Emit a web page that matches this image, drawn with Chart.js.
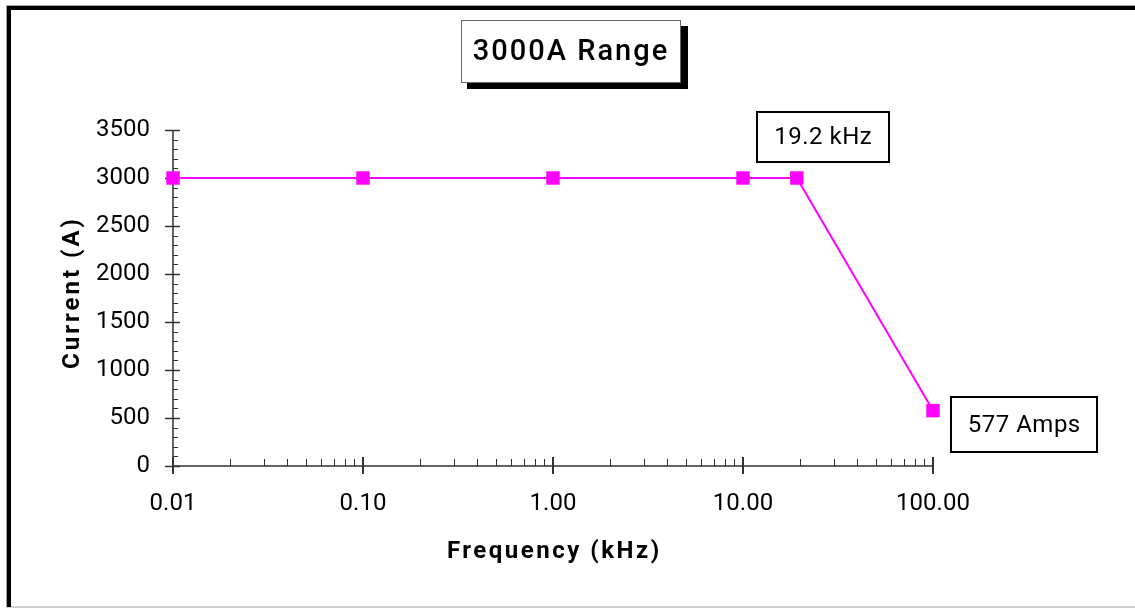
<!DOCTYPE html>
<html>
<head>
<meta charset="utf-8">
<script src="https://cdn.jsdelivr.net/npm/chart.js@4/dist/chart.umd.min.js"></script>
<style>
  body { margin: 0; background: #fff; }
  canvas { display: block; }
</style>
</head>
<body>
<canvas id="rangeChart" width="1135" height="608"></canvas>
<script>
// data
var freqKHz = [0.01, 0.1, 1, 10, 19.2, 100];
var currentA = [3000, 3000, 3000, 3000, 3000, 577];
var xTickValues = [0.01, 0.1, 1, 10, 100];
var yTickValues = [0, 500, 1000, 1500, 2000, 2500, 3000, 3500];
var noteLabels = ['19.2 kHz', '577 Amps'];
var chartTitle = '3000A Range';
var xTitle = 'Frequency (kHz)';
var yTitle = 'Current (A)';

var FONT = 'Roboto, "Noto Sans", sans-serif';

function drawFrame(chart) {
    var ctx = chart.ctx;
    ctx.save();
    ctx.fillStyle = '#fff';
    ctx.fillRect(0, 0, chart.width, chart.height);
    ctx.strokeStyle = '#a0a0a0';
    ctx.lineWidth = 1;
    ctx.strokeRect(6.5, 5.5, chart.width + 10, 601.5);
    ctx.fillStyle = '#000';
    ctx.fillRect(7, 6, chart.width, 4);
    ctx.fillRect(7, 6, 4, 601);
    ctx.restore();
}

function drawAxes(chart) {
    var ctx = chart.ctx;
    var xs = chart.scales.x, ys = chart.scales.y;
    var left = xs.left, bottom = ys.bottom;
    ctx.save();
    ctx.strokeStyle = '#333';
    ctx.lineWidth = 1.5;
    ctx.beginPath();
    ctx.moveTo(left, ys.top);
    ctx.lineTo(left, bottom);
    ctx.lineTo(xs.right, bottom);
    ctx.stroke();

    // y ticks: minor every 100 inside, major every 500 crossing
    for (var v = 0; v <= 3500; v += 100) {
        var py = Math.round(ys.getPixelForValue(v)) + 0.5;
        ctx.beginPath();
        if (v % 500 === 0) {
            ctx.lineWidth = 1.5;
            ctx.moveTo(left - 8, py);
            ctx.lineTo(left + 7, py);
        } else {
            ctx.lineWidth = 1;
            ctx.moveTo(left, py);
            ctx.lineTo(left + 5, py);
        }
        ctx.stroke();
    }

    // x ticks: decades crossing, 2..9 inside
    xTickValues.forEach(function(dec, i) {
        var px = xs.getPixelForValue(dec);
        ctx.lineWidth = 2;
        ctx.beginPath();
        ctx.moveTo(px, bottom - 9);
        ctx.lineTo(px, bottom + 8);
        ctx.stroke();
        if (i < xTickValues.length - 1) {
            ctx.lineWidth = 1;
            for (var m = 2; m <= 9; m++) {
                var mx = Math.round(xs.getPixelForValue(dec * m)) + 0.5;
                ctx.beginPath();
                ctx.moveTo(mx, bottom - 7);
                ctx.lineTo(mx, bottom);
                ctx.stroke();
            }
        }
    });
    ctx.restore();
}

function spacedText(ctx, text, x, y, spacing) {
    ctx.letterSpacing = spacing + 'px';
    ctx.fillText(text, x + spacing / 2, y);
    ctx.letterSpacing = '0px';
}

function drawLabels(chart) {
    var ctx = chart.ctx;
    var xs = chart.scales.x, ys = chart.scales.y;
    ctx.save();
    ctx.fillStyle = '#000';
    ctx.textAlign = 'center';
    ctx.textBaseline = 'alphabetic';

    // axis titles
    ctx.font = 'bold 24px ' + FONT;
    spacedText(ctx, xTitle, (xs.left + xs.right) / 2, 558, 2.5);
    ctx.save();
    ctx.translate(79, (ys.top + ys.bottom) / 2 - 4);
    ctx.rotate(-Math.PI / 2);
    spacedText(ctx, yTitle, 0, 0, 3);
    ctx.restore();

    // chart title box with shadow
    ctx.fillStyle = '#000';
    ctx.fillRect(467, 26, 221, 63);
    ctx.fillStyle = '#fff';
    ctx.fillRect(461, 20, 220, 63);
    ctx.strokeStyle = '#666';
    ctx.lineWidth = 1;
    ctx.strokeRect(461.5, 20.5, 219, 62);
    ctx.fillStyle = '#000';
    ctx.font = '500 29px ' + FONT;
    spacedText(ctx, chartTitle, 570, 60, 2);

    // callout boxes next to the knee and end points
    var notes = [
        { idx: 4, dx: -40, dy: -66, w: 132, h: 50 },
        { idx: 5, dx: 18, dy: -14, w: 146, h: 55 }
    ];
    ctx.font = '24px ' + FONT;
    ctx.textBaseline = 'middle';
    notes.forEach(function(n, i) {
        var px = xs.getPixelForValue(freqKHz[n.idx]);
        var py = ys.getPixelForValue(currentA[n.idx]);
        var bx = Math.round(px + n.dx), by = Math.round(py + n.dy);
        ctx.fillStyle = '#fff';
        ctx.fillRect(bx, by, n.w, n.h);
        ctx.strokeStyle = '#000';
        ctx.lineWidth = 2;
        ctx.strokeRect(bx, by, n.w, n.h);
        ctx.fillStyle = '#000';
        spacedText(ctx, noteLabels[i], bx + n.w / 2, by + n.h / 2 + 1, 0.5);
    });
    ctx.restore();
}

var decor = {
    id: 'decor',
    beforeDraw: drawFrame,
    beforeDatasetsDraw: drawAxes,
    afterDraw: drawLabels
};

var points = freqKHz.map(function(f, i) { return { x: f, y: currentA[i] }; });

var ctx = document.getElementById('rangeChart').getContext('2d');
new Chart(ctx, {
    type: 'line',
    data: {
        datasets: [{
            label: 'Current',
            data: points,
            borderColor: '#ff00ff',
            backgroundColor: '#ff00ff',
            borderWidth: 2,
            pointStyle: 'rect',
            pointRadius: 9.5,
            pointHoverRadius: 9.5,
            pointBorderWidth: 0,
            tension: 0,
            clip: false
        }]
    },
    options: {
        responsive: false,
        animation: false,
        devicePixelRatio: 1,
        layout: { padding: { left: 0, top: 130, right: 202, bottom: 0 } },
        plugins: {
            legend: { display: false },
            tooltip: { enabled: false },
            title: { display: false }
        },
        scales: {
            x: {
                type: 'logarithmic',
                min: 0.01,
                max: 100,
                grid: { display: false, drawTicks: false },
                border: { display: false },
                afterBuildTicks: function(scale) {
                    scale.ticks = xTickValues.map(function(v) { return { value: v }; });
                },
                afterFit: function(scale) { scale.height = 142; },
                ticks: {
                    autoSkip: false,
                    maxRotation: 0,
                    padding: 24,
                    color: '#000',
                    font: { family: FONT, size: 24 },
                    callback: function(value) { return Number(value).toFixed(2); }
                }
            },
            y: {
                min: 0,
                max: 3500,
                grid: { display: false, drawTicks: false },
                border: { display: false },
                afterBuildTicks: function(scale) {
                    scale.ticks = yTickValues.map(function(v) { return { value: v }; });
                },
                afterFit: function(scale) { scale.width = 173; },
                ticks: {
                    padding: 23,
                    color: '#000',
                    font: { family: FONT, size: 24 },
                    callback: function(value) { return String(value); }
                }
            }
        }
    },
    plugins: [decor]
});
</script>
</body>
</html>
